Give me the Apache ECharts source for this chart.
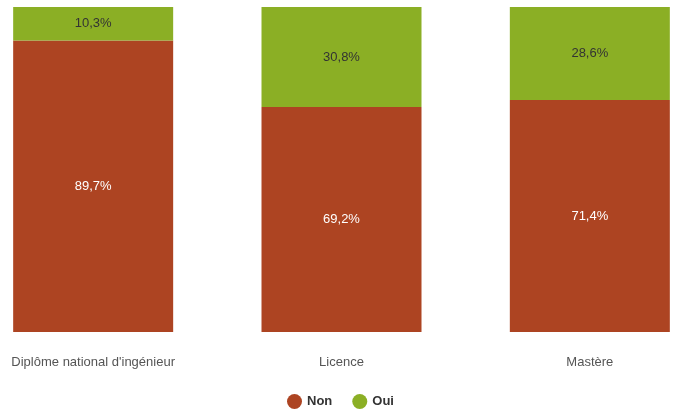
<!DOCTYPE html>
<html><head><meta charset="utf-8">
<script src="https://cdn.jsdelivr.net/npm/echarts@6/dist/echarts.min.js"></script>
<style>html,body{margin:0;padding:0;background:#fff}#c{width:676px;height:416px}</style>
</head><body><div id="c"></div>
<script>
var categories = ["Diplôme national d'ingénieur", "Licence", "Mastère"];
var nonValues = [89.7, 69.2, 71.4];
var ouiValues = [10.3, 30.8, 28.6];
var seriesNames = ["Non", "Oui"];
var FONT = "'Liberation Sans', Arial, sans-serif";
function fmt(p){ return p.value.toFixed(1).replace('.', ',') + '%'; }
var chart = echarts.init(document.getElementById('c'), null, {renderer:'canvas'});
chart.setOption({
  animation:false,
  grid:{left:-31, right:-38, top:7, bottom:84, outerBoundsMode:'none', containLabel:false},
  xAxis:{type:'category', data:categories,
    axisLine:{show:false}, axisTick:{show:false},
    axisLabel:{color:'#555', fontSize:13, fontFamily:FONT, margin:24, interval:0}},
  yAxis:{type:'value', min:0, max:100, show:false, splitLine:{show:false}},
  legend:{bottom:2, left:282, itemWidth:15, itemHeight:15, itemGap:20, icon:'circle',
    textStyle:{color:'#333', fontSize:13, fontWeight:'bold', fontFamily:FONT, padding:[0,0,0,0]},
    data:seriesNames},
  series:[
    {name:seriesNames[0], type:'bar', stack:'s', data:nonValues, barWidth:160,
     itemStyle:{color:'#AD4422'},
     label:{show:true, position:'inside', color:'#fff', fontSize:13, fontFamily:FONT, formatter:fmt}},
    {name:seriesNames[1], type:'bar', stack:'s', data:ouiValues, barWidth:160,
     itemStyle:{color:'#8BAF25'},
     label:{show:true, position:'inside', color:'#333', fontSize:13, fontFamily:FONT, formatter:fmt}}
  ]
});
</script></body></html>
